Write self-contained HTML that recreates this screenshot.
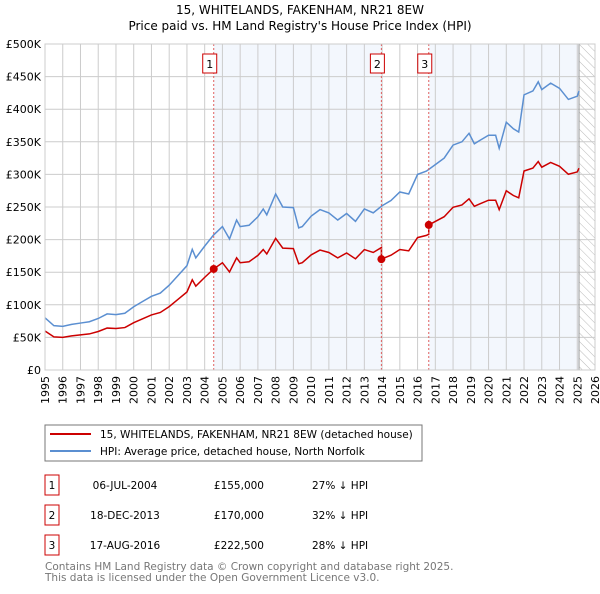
<!DOCTYPE html>
<html><head><meta charset="utf-8"><style>
body{margin:0;background:#fff;font-family:"DejaVu Sans","Liberation Sans",sans-serif;}
svg text{font-family:"DejaVu Sans","Liberation Sans",sans-serif;}
</style></head><body>
<svg id="c" width="600" height="590" xmlns="http://www.w3.org/2000/svg">
<defs><pattern id="hatch" width="6" height="6" patternUnits="userSpaceOnUse" patternTransform="rotate(-45)"><line x1="0" y1="0" x2="0" y2="6" stroke="#bbb" stroke-width="1"/></pattern></defs>
<text x="300" y="14" text-anchor="middle" font-size="12">15, WHITELANDS, FAKENHAM, NR21 8EW</text>
<text x="300" y="30" text-anchor="middle" font-size="12">Price paid vs. HM Land Registry's House Price Index (HPI)</text>
<g id="plot"></g>
<rect x="45" y="425" width="377" height="36" fill="#fff" stroke="#777"/>
<line x1="50" y1="434" x2="91" y2="434" stroke="#cc0000" stroke-width="2"/>
<text x="100" y="438" font-size="10.5">15, WHITELANDS, FAKENHAM, NR21 8EW (detached house)</text>
<line x1="50" y1="451" x2="91" y2="451" stroke="#5b8fd1" stroke-width="2"/>
<text x="100" y="455" font-size="10.5">HPI: Average price, detached house, North Norfolk</text>
<g id="tbl" font-size="10.5"></g>
<text x="45" y="570" font-size="10.5" fill="#777">Contains HM Land Registry data © Crown copyright and database right 2025.</text>
<text x="45" y="581" font-size="10.5" fill="#777">This data is licensed under the Open Government Licence v3.0.</text>
</svg>
<script>
const hpiYears=[1995,1995.5,1996,1996.5,1997,1997.5,1998,1998.5,1999,1999.5,2000,2000.5,2001,2001.5,2002,2002.5,2003,2003.3,2003.5,2004,2004.5,2005,2005.4,2005.8,2006,2006.5,2007,2007.3,2007.5,2008,2008.4,2009,2009.3,2009.5,2010,2010.5,2011,2011.5,2012,2012.5,2013,2013.5,2014,2014.5,2015,2015.5,2016,2016.5,2017,2017.5,2018,2018.5,2018.9,2019.2,2019.5,2020,2020.4,2020.6,2021,2021.4,2021.7,2022,2022.5,2022.8,2023,2023.5,2024,2024.5,2025,2025.1];
const hpiValues=[80,68,67,70,72,74,79,86,85,87,97,105,113,118,130,145,160,185,172,190,207,220,201,230,220,222,235,247,238,270,250,249,218,220,236,246,241,230,240,228,247,241,252,260,273,270,300,305,315,325,345,350,363,347,352,360,360,340,380,370,365,422,428,442,430,440,432,415,420,428];
const saleYears=[2004.51,2013.96,2016.63];
const salePrices=[155000,170000,222500];
const saleDates=["06-JUL-2004","18-DEC-2013","17-AUG-2016"];
const salePriceLabels=["£155,000","£170,000","£222,500"];
const saleHpiLabels=["27% ↓ HPI","32% ↓ HPI","28% ↓ HPI"];
const yTicks=[0,50,100,150,200,250,300,350,400,450,500];
const yTickLabels=["£0","£50K","£100K","£150K","£200K","£250K","£300K","£350K","£400K","£450K","£500K"];
const xTicks=[1995,1996,1997,1998,1999,2000,2001,2002,2003,2004,2005,2006,2007,2008,2009,2010,2011,2012,2013,2014,2015,2016,2017,2018,2019,2020,2021,2022,2023,2024,2025,2026];

const X0=45,X1=595,Y0=370,Y1=44;
const xs=t=>X0+(t-1995)/(2026-1995)*(X1-X0);
const ys=v=>Y0-v/500*(Y0-Y1);
const NS="http://www.w3.org/2000/svg";
const g=document.getElementById('plot');
function mk(tag,attrs,parent){const e=document.createElementNS(NS,tag);for(const k in attrs)e.setAttribute(k,attrs[k]);(parent||g).appendChild(e);return e;}
function hpiAt(t){for(let i=1;i<hpiYears.length;i++){if(t<=hpiYears[i]){const f=(t-hpiYears[i-1])/(hpiYears[i]-hpiYears[i-1]);return hpiValues[i-1]+f*(hpiValues[i]-hpiValues[i-1]);}}return hpiValues[hpiValues.length-1];}
const endT=hpiYears[hpiYears.length-1];
let e;
e=mk('rect',{x:xs(saleYears[0]),y:Y1,width:xs(saleYears[1])-xs(saleYears[0]),height:Y0-Y1,fill:'#eef3fc',opacity:0.7});

e=mk('rect',{x:xs(saleYears[2]),y:Y1,width:xs(endT)-xs(saleYears[2]),height:Y0-Y1,fill:'#eef3fc',opacity:0.7});

e=mk('rect',{x:xs(endT),y:Y1,width:X1-xs(endT),height:Y0-Y1,fill:'url(#hatch)'});

xTicks.forEach((t,i)=>{const x=xs(t);
 e=mk('line',{x1:x,y1:Y1,x2:x,y2:Y0,stroke:'#ccc','stroke-width':1});
 
 e=mk('text',{x:0,y:0,'font-size':11,'text-anchor':'end',transform:`translate(${x+4},${Y0+6}) rotate(-90)`});e.textContent=t;
 });
yTicks.forEach((v,i)=>{const y=ys(v);
 e=mk('line',{x1:X0,y1:y,x2:X1,y2:y,stroke:'#ccc','stroke-width':1});
 
 e=mk('text',{x:X0-4,y:y+4,'font-size':11,'text-anchor':'end'});e.textContent=yTickLabels[i];
 });
e=mk('line',{x1:xs(endT),y1:Y1,x2:xs(endT),y2:Y0,stroke:'#999','stroke-width':1});

e=mk('polyline',{points:hpiYears.map((t,i)=>xs(t)+','+ys(hpiValues[i])).join(' '),fill:'none',stroke:'#5b8fd1','stroke-width':1.5});

function factor(t){let k=0;for(let i=0;i<saleYears.length;i++)if(t>=saleYears[i])k=i;return salePrices[k]/1000/hpiAt(saleYears[k]);}
const pts=[];const ts=[...hpiYears,...saleYears].sort((a,b)=>a-b);
ts.forEach(t=>{for(let i=0;i<saleYears.length;i++){if(Math.abs(t-saleYears[i])<1e-9&&i>0){pts.push(xs(t)+','+ys(hpiAt(t)*salePrices[i-1]/1000/hpiAt(saleYears[i-1])));}}pts.push(xs(t)+','+ys(hpiAt(t)*factor(t)));});
e=mk('polyline',{points:pts.join(' '),fill:'none',stroke:'#cc0000','stroke-width':1.5});

saleYears.forEach((t,i)=>{const x=xs(t);
 e=mk('line',{x1:x,y1:Y1,x2:x,y2:Y0,stroke:'#e06060','stroke-width':1,'stroke-dasharray':'2,2'});
 
 e=mk('circle',{cx:x,cy:ys(salePrices[i]/1000),r:4,fill:'#cc0000'});
 
 e=mk('rect',{x:x-11,y:54,width:14,height:19,fill:'#fff',stroke:'#cc0000'});
 
 e=mk('text',{x:x-4,y:68,'font-size':11,'text-anchor':'middle'});e.textContent=i+1;
 });
e=mk('rect',{x:X0,y:Y1,width:X1-X0,height:Y0-Y1,fill:'none',stroke:'#ccc'});

const tb=document.getElementById('tbl');
saleYears.forEach((t,i)=>{const y=475+i*30;
 e=mk('rect',{x:45,y:y,width:14,height:20,fill:'#fff',stroke:'#cc0000'},tb);
 
 e=mk('text',{x:52,y:y+14,'text-anchor':'middle'},tb);e.textContent=i+1;
 
 e=mk('text',{x:125,y:y+14,'text-anchor':'middle'},tb);e.textContent=saleDates[i];
 
 e=mk('text',{x:264,y:y+14,'text-anchor':'end'},tb);e.textContent=salePriceLabels[i];
 
 e=mk('text',{x:312,y:y+14},tb);e.textContent=saleHpiLabels[i];
 });
</script>
</body></html>
